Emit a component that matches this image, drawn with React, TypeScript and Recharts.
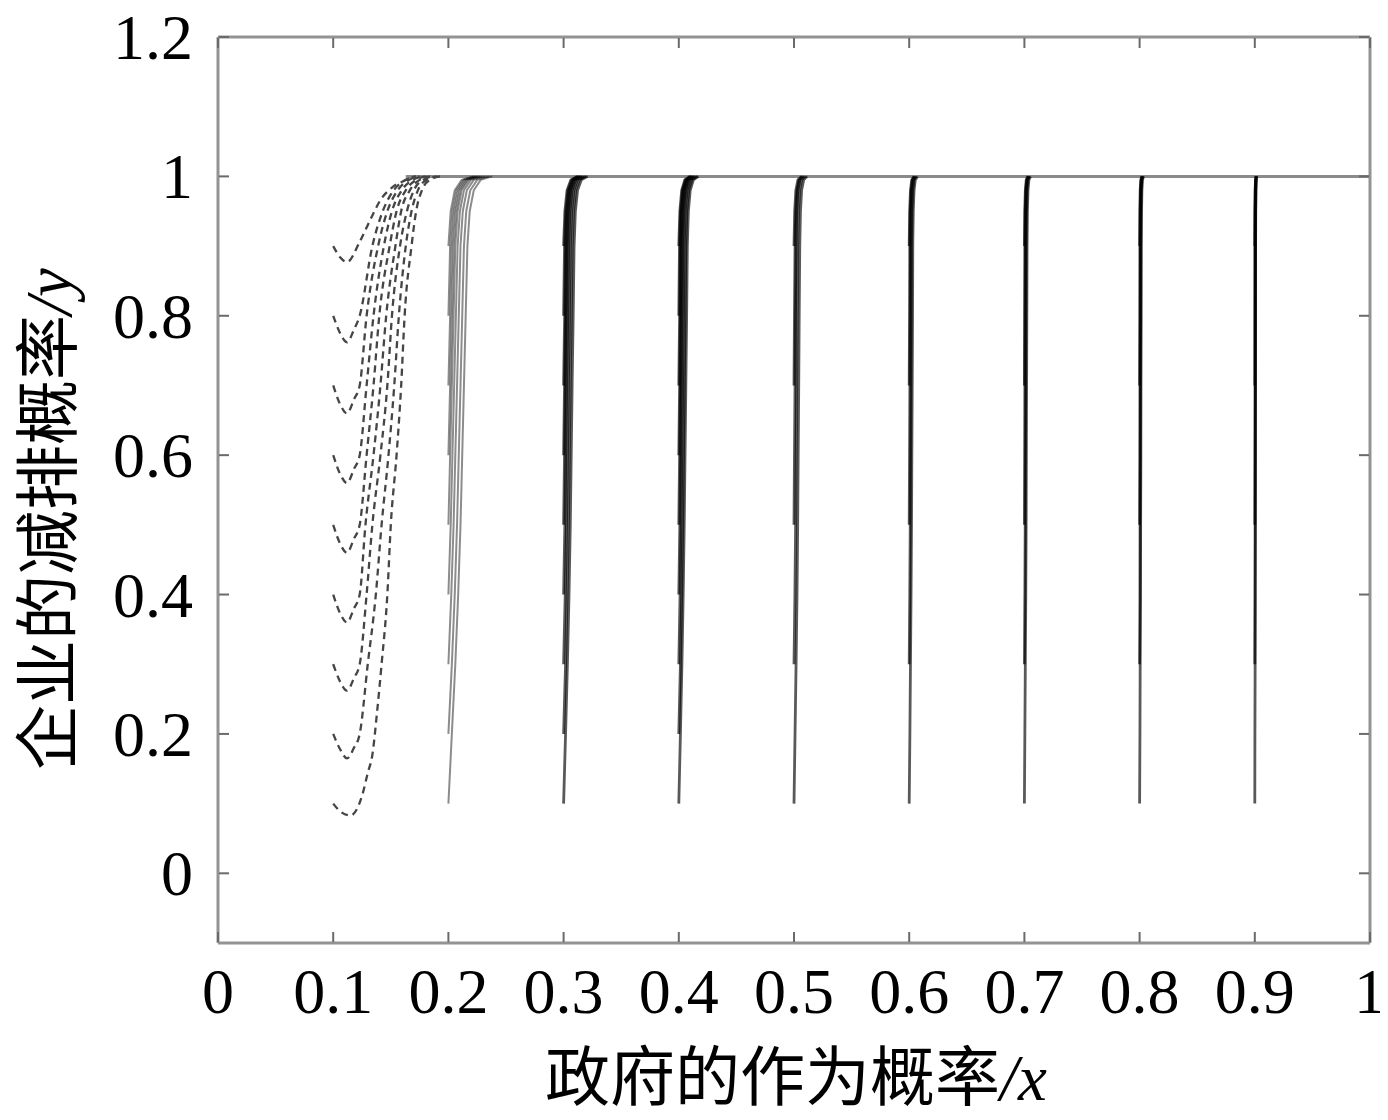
import React from 'react';
import { LineChart, Line, XAxis, YAxis } from 'recharts';

// ---------- axes ----------
const X_TICKS = [0, 0.1, 0.2, 0.3, 0.4, 0.5, 0.6, 0.7, 0.8, 0.9, 1];
const Y_TICKS = [0, 0.2, 0.4, 0.6, 0.8, 1, 1.2];
const X_DOMAIN: [number, number] = [0, 1];
const Y_DOMAIN: [number, number] = [-0.1, 1.2];
const X_LABEL = '政府的作为概率';
const X_VAR = '/x';
const Y_LABEL = '企业的减排概率';
const Y_VAR = '/y';

// ---------- dashed trajectories starting at x = 0.1 ([x, y]) ----------
const D01 = [[0.1, 0.1], [0.106, 0.089], [0.115, 0.083], [0.125, 0.111], [0.13, 0.144], [0.134, 0.17], [0.138, 0.23], [0.142, 0.3], [0.147, 0.4], [0.15, 0.5], [0.155, 0.6], [0.159, 0.7], [0.162, 0.8], [0.168, 0.9], [0.172, 0.95], [0.177, 0.98], [0.184, 0.995], [0.193, 1.0]];
const D02 = [[0.1, 0.2], [0.106, 0.178], [0.112, 0.165], [0.118, 0.18], [0.123, 0.2], [0.13, 0.3], [0.137, 0.4], [0.142, 0.5], [0.148, 0.6], [0.153, 0.7], [0.157, 0.8], [0.163, 0.9], [0.168, 0.95], [0.1735, 0.98], [0.181, 0.995], [0.19, 1.0]];
const D03 = [[0.1, 0.3], [0.106, 0.275], [0.112, 0.262], [0.118, 0.28], [0.123, 0.3], [0.129, 0.4], [0.134, 0.5], [0.141, 0.6], [0.147, 0.7], [0.151, 0.8], [0.158, 0.9], [0.164, 0.95], [0.17, 0.98], [0.178, 0.995], [0.187, 1.0]];
const D04 = [[0.1, 0.4], [0.106, 0.373], [0.112, 0.36], [0.118, 0.38], [0.123, 0.4], [0.128, 0.5], [0.135, 0.6], [0.141, 0.7], [0.146, 0.8], [0.154, 0.9], [0.159, 0.95], [0.1665, 0.98], [0.175, 0.995], [0.184, 1.0]];
const D05 = [[0.1, 0.5], [0.106, 0.473], [0.112, 0.46], [0.118, 0.48], [0.123, 0.5], [0.129, 0.6], [0.135, 0.7], [0.14, 0.8], [0.149, 0.9], [0.155, 0.95], [0.163, 0.98], [0.172, 0.995], [0.181, 1.0]];
const D06 = [[0.1, 0.6], [0.106, 0.573], [0.112, 0.56], [0.118, 0.58], [0.123, 0.6], [0.129, 0.7], [0.135, 0.8], [0.144, 0.9], [0.151, 0.95], [0.1595, 0.98], [0.169, 0.995], [0.178, 1.0]];
const D07 = [[0.1, 0.7], [0.106, 0.673], [0.112, 0.66], [0.118, 0.68], [0.123, 0.7], [0.129, 0.8], [0.139, 0.9], [0.147, 0.95], [0.156, 0.98], [0.166, 0.995], [0.175, 1.0]];
const D08 = [[0.1, 0.8], [0.106, 0.775], [0.112, 0.762], [0.118, 0.78], [0.123, 0.8], [0.134, 0.9], [0.143, 0.95], [0.1525, 0.98], [0.163, 0.995], [0.172, 1.0]];
const D09 = [[0.1, 0.9], [0.106, 0.884], [0.112, 0.877], [0.123, 0.906], [0.132, 0.937], [0.141, 0.966], [0.151, 0.984], [0.162, 0.994], [0.171, 1.0]];
const DASHED = [D01, D02, D03, D04, D05, D06, D07, D08, D09];

// ---------- solid trajectories: y levels + x readings per curve ----------
// each x list ends at the last level; its length gives the starting level
const LEVELS = [0.1, 0.2, 0.3, 0.4, 0.5, 0.6, 0.7, 0.8, 0.9, 0.95, 0.98, 0.995, 1.0];

const F20 = [
  [0.2, 0.203, 0.206, 0.2085, 0.2105, 0.212, 0.2135, 0.215, 0.2165, 0.2185, 0.222, 0.228, 0.238],
  [0.2, 0.203, 0.2055, 0.2075, 0.209, 0.2105, 0.212, 0.2135, 0.2155, 0.219, 0.225, 0.235],
  [0.2, 0.2025, 0.2045, 0.206, 0.2075, 0.209, 0.2105, 0.2125, 0.216, 0.222, 0.232],
  [0.2, 0.202, 0.2035, 0.205, 0.2065, 0.208, 0.21, 0.2135, 0.2195, 0.2295],
  [0.2, 0.2015, 0.203, 0.2045, 0.206, 0.208, 0.2115, 0.2175, 0.2275],
  [0.2, 0.2015, 0.203, 0.2045, 0.2065, 0.21, 0.216, 0.226],
  [0.2, 0.2015, 0.203, 0.205, 0.2085, 0.2145, 0.2245],
  [0.2, 0.2015, 0.2035, 0.207, 0.213, 0.223],
  [0.2, 0.202, 0.2055, 0.2115, 0.2215],
];
const F30 = [
  [0.3, 0.3017, 0.3033, 0.3047, 0.3058, 0.3066, 0.3074, 0.3083, 0.3091, 0.3102, 0.3121, 0.3154, 0.3209],
  [0.3, 0.3017, 0.303, 0.3041, 0.3049, 0.3057, 0.3066, 0.3074, 0.3085, 0.3104, 0.3137, 0.3192],
  [0.3, 0.3014, 0.3025, 0.3033, 0.3041, 0.305, 0.3058, 0.3069, 0.3088, 0.3121, 0.3176],
  [0.3, 0.3011, 0.3019, 0.3027, 0.3036, 0.3044, 0.3055, 0.3074, 0.3107, 0.3162],
  [0.3, 0.3008, 0.3016, 0.3025, 0.3033, 0.3044, 0.3063, 0.3096, 0.3151],
  [0.3, 0.3008, 0.3017, 0.3025, 0.3036, 0.3055, 0.3088, 0.3143],
  [0.3, 0.3009, 0.3017, 0.3028, 0.3047, 0.308, 0.3135],
  [0.3, 0.3008, 0.3019, 0.3038, 0.3071, 0.3126],
  [0.3, 0.3011, 0.303, 0.3063, 0.3118],
];
const F40 = [
  [0.4, 0.4014, 0.4027, 0.4038, 0.4047, 0.4054, 0.4061, 0.4068, 0.4074, 0.4083, 0.4099, 0.4126, 0.4171],
  [0.4, 0.4014, 0.4025, 0.4034, 0.4041, 0.4048, 0.4055, 0.4061, 0.407, 0.4086, 0.4113, 0.4158],
  [0.4, 0.4011, 0.402, 0.4027, 0.4034, 0.4041, 0.4047, 0.4056, 0.4072, 0.4099, 0.4144],
  [0.4, 0.4009, 0.4016, 0.4023, 0.403, 0.4036, 0.4045, 0.4061, 0.4088, 0.4133],
  [0.4, 0.4007, 0.4014, 0.4021, 0.4027, 0.4036, 0.4052, 0.4079, 0.4124],
  [0.4, 0.4007, 0.4014, 0.402, 0.4029, 0.4045, 0.4072, 0.4117],
  [0.4, 0.4007, 0.4013, 0.4022, 0.4038, 0.4065, 0.411],
  [0.4, 0.4006, 0.4015, 0.4031, 0.4058, 0.4103],
  [0.4, 0.4009, 0.4025, 0.4052, 0.4097],
];
const F50 = [
  [0.5, 0.5009, 0.5018, 0.5026, 0.5032, 0.5036, 0.5041, 0.5045, 0.505, 0.5056, 0.5066, 0.5084, 0.5114],
  [0.5, 0.5008, 0.5014, 0.5018, 0.5023, 0.5027, 0.5032, 0.5038, 0.5048, 0.5066, 0.5096],
  [0.5, 0.5004, 0.5009, 0.5013, 0.5018, 0.5024, 0.5034, 0.5052, 0.5082],
  [0.5, 0.5004, 0.5009, 0.5015, 0.5025, 0.5043, 0.5073],
  [0.5, 0.5006, 0.5016, 0.5034, 0.5064],
];
const F60 = [
  [0.6, 0.6006, 0.6011, 0.6016, 0.602, 0.6023, 0.6026, 0.6029, 0.6031, 0.6035, 0.6042, 0.6053, 0.6072],
  [0.6, 0.6005, 0.6009, 0.6012, 0.6015, 0.6018, 0.602, 0.6024, 0.6031, 0.6042, 0.6061],
  [0.6, 0.6003, 0.6006, 0.6009, 0.6011, 0.6015, 0.6022, 0.6033, 0.6052],
  [0.6, 0.6003, 0.6005, 0.6009, 0.6016, 0.6027, 0.6046],
  [0.6, 0.6004, 0.6011, 0.6022, 0.6041],
];
const F70 = [
  [0.7, 0.7004, 0.7008, 0.7012, 0.7015, 0.7017, 0.7019, 0.7021, 0.7023, 0.7026, 0.7031, 0.7039, 0.7053],
  [0.7, 0.7004, 0.7007, 0.7009, 0.7011, 0.7013, 0.7015, 0.7018, 0.7023, 0.7031, 0.7045],
  [0.7, 0.7002, 0.7004, 0.7006, 0.7008, 0.7011, 0.7016, 0.7024, 0.7038],
  [0.7, 0.7002, 0.7004, 0.7007, 0.7012, 0.702, 0.7034],
  [0.7, 0.7003, 0.7008, 0.7016, 0.703],
];
const F80 = [
  [0.8, 0.8003, 0.8005, 0.8008, 0.8009, 0.8011, 0.8012, 0.8014, 0.8015, 0.8017, 0.802, 0.8025, 0.8034],
  [0.8, 0.8003, 0.8004, 0.8006, 0.8007, 0.8009, 0.801, 0.8012, 0.8015, 0.802, 0.8029],
  [0.8, 0.8002, 0.8003, 0.8005, 0.8006, 0.8008, 0.8011, 0.8016, 0.8025],
  [0.8, 0.8002, 0.8003, 0.8005, 0.8008, 0.8013, 0.8022],
  [0.8, 0.8002, 0.8005, 0.801, 0.8019],
];
const F90 = [
  [0.9, 0.9001, 0.9003, 0.9004, 0.9005, 0.9006, 0.9006, 0.9007, 0.9007, 0.9008, 0.901, 0.9013, 0.9017],
  [0.9, 0.9002, 0.9003, 0.9004, 0.9005, 0.9005, 0.9006, 0.9007, 0.9009, 0.9012, 0.9016],
  [0.9, 0.9001, 0.9002, 0.9002, 0.9003, 0.9004, 0.9006, 0.9009, 0.9013],
  [0.9, 0.9001, 0.9001, 0.9002, 0.9004, 0.9007, 0.9011],
  [0.9, 0.9001, 0.9003, 0.9006, 0.901],
];
const SOLID_FAMILIES = [F20, F30, F40, F50, F60, F70, F80, F90];

// common end state y = 1
const TOP_LINE = [[0.163, 1.0], [1.0, 1.0]];

// ---------- helpers ----------
const pairs = (arr: number[][]) => arr.map(([x, y]) => ({ x, y }));
const levelPoints = (xs: number[]) => {
  const start = LEVELS.length - xs.length;
  return xs.map((x, j) => ({ x, y: LEVELS[start + j] }));
};

const SERIF = "'Liberation Serif', 'Times New Roman', serif";
const CJK = "'Noto Sans CJK SC', 'Noto Sans CJK JP', sans-serif";

const W = 1380;
const H = 1110;
const TICK_LEN = 10;
const TICK_STROKE = '#6a6a6a';
const FONT_SIZE = 64;

const axisLine = { stroke: '#939393', strokeWidth: 3 };

// inward ticks drawn together with the labels
const BottomTick = (p: any) => (
  <g>
    <line x1={p.x} x2={p.x} y1={p.y - 1} y2={p.y - 1 - TICK_LEN} stroke={TICK_STROKE} strokeWidth={2} />
    <text x={p.x} y={p.y + 70} textAnchor="middle" fill="#000" fontSize={FONT_SIZE} fontFamily={SERIF}>
      {String(p.payload.value)}
    </text>
  </g>
);
const LeftTick = (p: any) => (
  <g>
    <line x1={p.x + 1} x2={p.x + 1 + TICK_LEN} y1={p.y} y2={p.y} stroke={TICK_STROKE} strokeWidth={2} />
    <text x={p.x - 25} y={p.y + 22} textAnchor="end" fill="#000" fontSize={FONT_SIZE} fontFamily={SERIF}>
      {String(p.payload.value)}
    </text>
  </g>
);
const TopTick = (p: any) => (
  <line x1={p.x} x2={p.x} y1={p.y + 1} y2={p.y + 1 + TICK_LEN} stroke={TICK_STROKE} strokeWidth={2} />
);
const RightTick = (p: any) => (
  <line x1={p.x - 1} x2={p.x - 1 - TICK_LEN} y1={p.y} y2={p.y} stroke={TICK_STROKE} strokeWidth={2} />
);

const XLabel = () => (
  <text x={788} y={1092} textAnchor="middle" fill="#000" fontSize={65} fontFamily={CJK}>
    {X_LABEL}
    <tspan fontFamily={SERIF} fontStyle="italic">{X_VAR}</tspan>
  </text>
);

const YLabel = () => (
  <text
    x={63}
    y={511}
    transform="rotate(-90 63 511)"
    textAnchor="middle"
    fill="#000"
    fontSize={65}
    fontFamily={CJK}
  >
    {Y_LABEL}
    <tspan fontFamily={SERIF} fontStyle="italic">{Y_VAR}</tspan>
  </text>
);

export default function App() {
  const solidLines: React.ReactNode[] = [];
  SOLID_FAMILIES.forEach((fam, fi) => {
    fam.forEach((xs, ci) => {
      solidLines.push(
        <Line
          key={`s-${fi}-${ci}`}
          data={levelPoints(xs)}
          dataKey="y"
          type="linear"
          stroke="#000"
          strokeOpacity={fi === 0 ? 0.45 : 0.65}
          strokeWidth={fi === 0 ? 2 : 2.8}
          dot={false}
          activeDot={false}
          isAnimationActive={false}
        />
      );
    });
  });

  return (
    <div style={{ width: W, height: H, background: '#fff' }}>
      <LineChart
        width={W}
        height={H}
        margin={{ top: 28, right: 17, bottom: 0, left: 0 }}
        style={{ overflow: 'visible' }}
      >
        <XAxis
          dataKey="x"
          type="number"
          domain={X_DOMAIN}
          ticks={X_TICKS}
          interval={0}
          allowDataOverflow
          height={175}
          axisLine={axisLine}
          tickLine={false}
          tickSize={0}
          tickMargin={0}
          tick={BottomTick}
          label={XLabel}
        />
        <XAxis
          xAxisId="top"
          orientation="top"
          dataKey="x"
          type="number"
          domain={X_DOMAIN}
          ticks={X_TICKS}
          interval={0}
          allowDataOverflow
          height={1}
          axisLine={axisLine}
          tickLine={false}
          tickSize={0}
          tickMargin={0}
          tick={TopTick}
        />
        <YAxis
          type="number"
          domain={Y_DOMAIN}
          ticks={Y_TICKS}
          interval={0}
          allowDataOverflow
          width={210}
          axisLine={axisLine}
          tickLine={false}
          tickSize={0}
          tickMargin={0}
          tick={LeftTick}
          label={YLabel}
        />
        <YAxis
          yAxisId="right"
          orientation="right"
          type="number"
          domain={Y_DOMAIN}
          ticks={Y_TICKS}
          interval={0}
          allowDataOverflow
          width={1}
          axisLine={axisLine}
          tickLine={false}
          tickSize={0}
          tickMargin={0}
          tick={RightTick}
        />
        <Line
          data={pairs(TOP_LINE)}
          dataKey="y"
          type="linear"
          stroke="#8a8a8a"
          strokeWidth={3}
          dot={false}
          activeDot={false}
          isAnimationActive={false}
        />
        {DASHED.map((c, i) => (
          <Line
            key={`d-${i}`}
            data={pairs(c)}
            dataKey="y"
            type="monotone"
            stroke="#454545"
            strokeWidth={2.3}
            strokeDasharray="7 5"
            dot={false}
            activeDot={false}
            isAnimationActive={false}
          />
        ))}
        {solidLines}
      </LineChart>
    </div>
  );
}
